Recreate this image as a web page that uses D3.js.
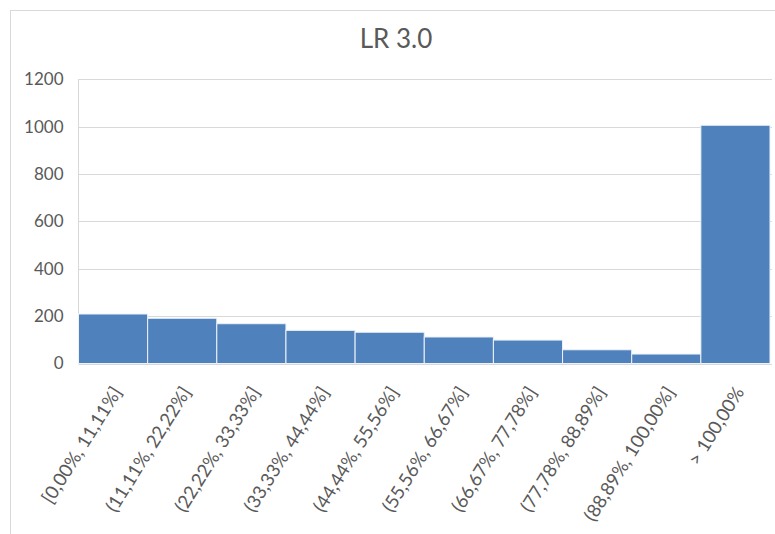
<!DOCTYPE html>
<html>
<head>
<meta charset="utf-8">
<script src="https://cdn.jsdelivr.net/npm/d3@7"></script>
<style>
  html, body { margin: 0; padding: 0; background: #fff; }
  svg { display: block; font-family: Lato, "Open Sans", sans-serif; }
</style>
</head>
<body>
<svg id="chart" width="775" height="534"></svg>
<script>
// Histogram bins and counts
const categories = [
  "[0,00%, 11,11%]", "(11,11%, 22,22%]", "(22,22%, 33,33%]", "(33,33%, 44,44%]",
  "(44,44%, 55,56%]", "(55,56%, 66,67%]", "(66,67%, 77,78%]", "(77,78%, 88,89%]",
  "(88,89%, 100,00%]", "> 100,00%"
];
const counts = [209, 191, 168, 140, 132, 112, 99, 58, 40, 1006];
const yTicks = [0, 200, 400, 600, 800, 1000, 1200];
const title = "LR 3.0";

const svg = d3.select("#chart");
const W = 775, H = 534;
const plot = { left: 78.5, right: 770, top: 79.3, bottom: 363.5 };
const textColor = "#595959";
const gridColor = "#d9d9d9";

// Outer chart frame
svg.append("rect")
  .attr("x", 10.5).attr("y", 10.5)
  .attr("width", W + 20).attr("height", H + 20)
  .attr("fill", "#fff").attr("stroke", gridColor).attr("stroke-width", 1);

const x = d3.scaleBand().domain(categories).range([plot.left, plot.right]).padding(0);
const y = d3.scaleLinear().domain([0, 1200]).range([plot.bottom, plot.top]);

// Title
svg.append("text")
  .attr("x", 396).attr("y", 48)
  .attr("text-anchor", "middle")
  .attr("font-size", 26)
  .attr("fill", textColor)
  .text(title);

// Horizontal gridlines
svg.append("g").selectAll("line").data(yTicks).join("line")
  .attr("x1", plot.left).attr("x2", plot.right + 2)
  .attr("y1", d => Math.round(y(d)) + 0.5).attr("y2", d => Math.round(y(d)) + 0.5)
  .attr("stroke", gridColor).attr("stroke-width", 1);

// Left plot edge
svg.append("line")
  .attr("x1", plot.left).attr("x2", plot.left)
  .attr("y1", y(1200)).attr("y2", y(0))
  .attr("stroke", gridColor).attr("stroke-width", 1);

// Y axis labels
const yAxis = d3.axisLeft(y).tickValues(yTicks).tickSize(0).tickPadding(0).tickFormat(d3.format("d"));
const yg = svg.append("g").attr("transform", `translate(${plot.left - 15},0)`).call(yAxis);
yg.select(".domain").remove();
yg.selectAll("text").attr("font-size", 17).attr("fill", textColor)
  .attr("font-family", "Lato, 'Open Sans', sans-serif");

// Bars
svg.append("g").selectAll("rect").data(categories).join("rect")
  .attr("x", d => x(d))
  .attr("y", (d, i) => y(counts[i]))
  .attr("width", x.bandwidth())
  .attr("height", (d, i) => y(0) - y(counts[i]))
  .attr("fill", "#4f81bd")
  .attr("stroke", "#eef3fa")
  .attr("stroke-width", 1);

// X axis labels, rotated
const xAxis = d3.axisBottom(x).tickSize(0).tickPadding(0);
const xg = svg.append("g").attr("transform", `translate(0,${plot.bottom})`).call(xAxis);
xg.select(".domain").remove();
xg.selectAll(".tick text")
  .attr("font-size", 18.5)
  .attr("fill", textColor)
  .attr("font-family", "Lato, 'Open Sans', sans-serif")
  .attr("text-anchor", "end")
  .attr("x", 0).attr("y", 0).attr("dy", "0.35em")
  .attr("transform", "translate(4,25) rotate(-58)");
</script>
</body>
</html>
